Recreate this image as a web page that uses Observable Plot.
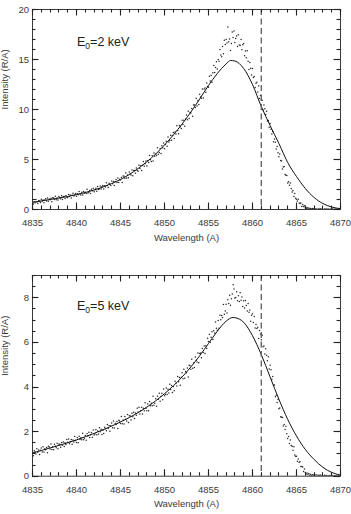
<!DOCTYPE html>
<html>
<head>
<meta charset="utf-8">
<script src="https://cdn.jsdelivr.net/npm/d3@7"></script>
<script src="https://cdn.jsdelivr.net/npm/@observablehq/plot@0.6"></script>
<style>
  body { margin: 0; background: #fff; }
  #chart svg { display: block; }
</style>
</head>
<body>
<div id="chart"></div>
<script>
// Observed H-beta profile, sampled every 0.1 A from 4835 A
const obsStart = 4835;
const obsStep = 0.1;

// Observed intensities (R/A), E0 = 2 keV
const obsIntensity2keV = [
  0.83,0.54,0.78,0.67,0.99,0.75,0.59,0.91,0.82,0.71,
  1.03,0.82,0.96,0.67,0.94,1.08,0.84,1.16,0.82,1.04,
  0.98,1.12,0.78,1.17,1.14,1.00,1.32,0.98,1.15,0.96,
  1.30,1.17,1.08,1.37,1.01,1.30,1.29,1.11,1.40,1.24,
  1.18,1.50,1.29,1.44,1.16,1.43,1.62,1.34,1.46,1.61,
  1.33,1.57,1.47,1.79,1.56,1.45,1.72,1.44,1.81,1.63,
  1.73,1.61,2.03,1.64,1.72,1.91,1.60,2.02,1.87,2.12,
  1.77,1.98,2.13,1.83,2.31,2.01,2.07,2.34,2.04,2.28,
  2.41,2.06,2.38,2.26,2.68,2.39,2.20,2.62,2.53,2.41,
  2.85,2.57,2.79,2.41,2.80,3.01,2.70,3.16,2.71,3.03,
  2.96,3.21,2.70,3.35,3.32,3.13,3.66,3.15,3.44,3.17,
  3.75,3.56,3.44,3.96,3.38,3.90,3.91,3.63,4.15,3.91,
  3.83,4.43,4.09,4.38,3.91,4.42,4.80,4.33,4.57,4.86,
  4.35,4.88,4.71,5.39,4.97,4.80,5.38,4.86,5.64,5.32,
  5.55,5.39,6.18,5.52,5.71,6.10,5.59,6.38,6.17,6.66,
  6.07,6.50,6.82,6.32,7.24,6.74,6.89,7.43,6.93,7.41,
  7.70,7.09,7.74,7.55,8.38,7.89,7.58,8.41,8.28,8.09,
  8.92,8.50,8.92,8.32,9.04,9.46,8.98,9.82,9.10,9.70,
  9.64,10.10,9.33,10.45,10.46,10.21,11.13,10.36,10.89,10.51,
  11.52,11.25,11.12,12.04,11.14,12.06,12.14,11.73,12.65,12.31,
  12.23,13.33,12.85,13.43,12.73,13.68,14.40,13.70,14.20,14.78,
  14.04,14.99,14.82,16.01,15.44,15.27,16.30,15.57,16.92,16.51,
  16.99,16.66,18.25,16.78,17.05,15.90,16.60,17.75,17.20,17.84,
  16.69,17.10,17.34,16.31,17.48,16.45,16.43,17.01,15.98,16.47,
  16.60,15.38,15.84,15.18,15.88,14.82,14.00,14.70,14.12,13.46,
  14.09,13.20,13.29,12.19,12.63,12.72,11.76,12.34,11.10,11.40,
  10.95,10.93,9.96,10.44,10.07,9.50,9.83,8.86,8.89,8.22,
  8.60,8.02,7.54,7.81,6.78,7.05,6.72,6.04,6.31,5.68,
  5.28,5.56,4.89,4.86,4.06,4.25,4.30,3.50,3.42,3.39,
  2.66,2.78,2.42,2.65,2.10,1.74,1.90,1.29,1.59,1.12,
  1.02,0.84,1.03,0.65,0.60,0.64,0.31,0.51,0.30,0.38,
  0.18,0.12,0.20,0.08,0.14,0.05,0.11,0.03,0.09,0.06,
  0.04,0.08,0.02,0.06,0.00,0.05,0.03,0.07,0.01,0.04,
  0.03,0.00,0.05,0.02,0.06,0.01,0.04,0.00,0.03,0.02,
  0.01,0.04,0.00,0.03,0.02,0.05,0.00,0.02,0.03,0.01,
  0.02
];

// Observed intensities (R/A), E0 = 5 keV
const obsIntensity5keV = [
  1.03,0.92,1.14,1.08,1.00,1.23,1.07,1.17,0.97,1.16,
  1.26,1.09,1.32,1.08,1.23,1.19,1.29,1.05,1.34,1.31,
  1.22,1.44,1.20,1.32,1.19,1.43,1.34,1.28,1.48,1.23,
  1.43,1.43,1.30,1.51,1.39,1.53,1.33,1.50,1.42,1.65,
  1.52,1.67,1.45,1.54,1.65,1.43,1.62,1.53,1.78,1.60,
  1.51,1.72,1.50,1.79,1.65,1.72,1.63,1.93,1.64,1.70,
  1.83,1.61,1.90,1.80,1.97,1.73,1.86,1.96,1.75,2.07,
  1.85,1.89,2.08,1.86,2.03,1.89,2.17,1.99,2.11,1.87,
  2.06,1.92,2.20,2.13,2.04,2.32,2.14,2.27,2.02,2.26,
  2.39,2.17,2.48,2.16,2.37,2.32,2.45,2.14,2.51,2.48,
  2.36,2.68,2.35,2.52,2.34,2.68,2.55,2.47,2.77,2.41,
  2.71,2.70,2.52,2.82,2.67,2.87,2.59,2.83,2.73,3.05,
  2.88,3.09,2.79,2.93,3.09,2.79,3.05,2.94,3.29,3.05,
  2.93,3.24,2.93,3.35,3.16,3.27,3.16,3.58,3.18,3.27,
  3.47,3.14,3.59,3.45,3.72,3.36,3.57,3.72,3.43,3.91,
  3.61,3.68,3.95,3.66,3.90,3.73,4.12,3.89,4.07,3.75,
  4.02,3.83,4.26,4.17,4.05,4.47,4.23,4.43,4.08,4.44,
  4.64,4.37,4.80,4.39,4.69,4.64,4.85,4.45,4.97,4.95,
  4.80,5.25,4.84,5.08,4.87,5.35,5.20,5.12,5.53,5.09,
  5.50,5.52,5.31,5.73,5.55,5.84,5.50,5.85,5.74,6.19,
  6.04,6.36,6.01,6.23,6.48,6.13,6.52,6.42,6.92,6.64,
  6.54,6.98,6.64,7.22,7.02,7.21,7.12,7.70,7.26,7.41,
  7.71,7.32,7.91,7.74,8.11,7.67,7.96,8.17,8.58,8.40,
  7.99,8.01,8.27,7.87,8.09,7.83,8.23,7.89,8.04,7.61,
  7.87,7.54,7.88,7.66,7.41,7.75,7.35,7.45,6.95,7.22,
  7.28,6.89,7.16,6.65,6.80,6.62,6.68,6.17,6.53,6.38,
  6.12,6.32,5.80,5.84,5.48,5.72,5.42,5.18,5.36,4.81,
  4.98,4.77,4.35,4.47,4.08,4.09,3.56,3.63,3.30,3.44,
  3.02,3.06,2.67,2.64,2.63,2.25,2.32,2.09,2.24,1.90,
  1.69,1.78,1.47,1.62,1.38,1.34,1.16,1.32,0.95,0.89,
  0.89,0.67,0.77,0.63,0.65,0.43,0.43,0.41,0.21,0.32,
  0.17,0.10,0.14,0.06,0.12,0.04,0.09,0.03,0.07,0.05,
  0.03,0.06,0.01,0.05,0.00,0.04,0.02,0.05,0.01,0.03,
  0.02,0.00,0.04,0.01,0.03,0.00,0.02,0.01,0.03,0.00,
  0.01,0.03,0.00,0.02,0.01,0.03,0.00,0.01,0.02,0.00,
  0.01
];

// Model profiles (solid curves)
const modelWave2keV = [4835,4836,4837,4838,4839,4840,4841,4842,4843,4844,4845,4846,4847,4848,4849,4850,4851,4852,4853,4854,4855,4856,4857,4857.5,4858,4859,4860,4861,4862,4863,4864,4865,4866,4867,4868,4869,4870];
const modelInt2keV  = [0.72,0.86,1.0,1.15,1.3,1.5,1.7,1.95,2.25,2.6,3.0,3.5,4.1,4.78,5.55,6.45,7.45,8.55,9.75,11.05,12.4,13.6,14.55,14.9,14.85,14.1,12.5,10.3,8.4,6.6,4.7,3.3,2.1,1.2,0.6,0.25,0.08];

const modelWave5keV = [4835,4836,4837,4838,4839,4840,4841,4842,4843,4844,4845,4846,4847,4848,4849,4850,4851,4852,4853,4854,4855,4856,4857,4857.8,4858,4859,4860,4861,4862,4863,4864,4865,4866,4867,4868,4869,4870];
const modelInt5keV  = [1.05,1.15,1.27,1.38,1.5,1.63,1.77,1.92,2.08,2.25,2.43,2.63,2.85,3.1,3.38,3.7,4.05,4.45,4.9,5.4,5.95,6.5,6.95,7.12,7.11,6.9,6.3,5.45,4.45,3.45,2.55,1.8,1.2,0.75,0.4,0.17,0.05];

// Rest wavelength of H-beta (dashed marker)
const restWavelength = [4861];

// Axis ticks
const xDomain = [4835, 4870];
const xTicks = [4835, 4840, 4845, 4850, 4855, 4860, 4865, 4870];
const yTicks2keV = [0, 5, 10, 15, 20];
const yTicks5keV = [0, 2, 4, 6, 8];

const FONT = "'Liberation Sans', Arial, Helvetica, sans-serif";
const AXIS_COLOR = "#3a3a3a";
const TICK_COLOR = "#222";
const WIDTH = 351, MARGIN_LEFT = 32, MARGIN_RIGHT = 11;

// Inward tick marks on all four sides, positioned with the plot's own scales
function addInwardTicks(svg, {xMajor, xMinor, yMajor, yMinor}) {
  const sx = svg.scale("x");
  const sy = svg.scale("y");
  const [x0, x1] = sx.range;
  const [yb, yt] = sy.range;
  const g = d3.select(svg).append("g")
    .attr("aria-label", "inward ticks")
    .attr("stroke", TICK_COLOR)
    .attr("stroke-width", 1.1)
    .attr("fill", "none");
  const seg = (xa, ya, xb, yb2) => g.append("line")
    .attr("x1", xa).attr("y1", ya).attr("x2", xb).attr("y2", yb2);
  const xSide = (values, len) => values.forEach(v => {
    const x = Math.round(sx.apply(v)) + 0.5;
    seg(x, yb, x, yb - len);
    seg(x, yt, x, yt + len);
  });
  const ySide = (values, len) => values.forEach(v => {
    const y = Math.round(sy.apply(v)) + 0.5;
    seg(x0, y, x0 + len, y);
    seg(x1, y, x1 - len, y);
  });
  xSide(xMinor, 3.5);
  xSide(xMajor, 6.5);
  ySide(yMinor, 3.5);
  ySide(yMajor, 6.5);
}

function panel({obs, modelWave, modelInt, yMax, yMajor, yMinorStep, energy, height, marginTop, marginBottom, titleDy}) {
  const obsData = obs.map((v, i) => ({w: obsStart + i * obsStep, v}));
  const model = modelWave.map((w, i) => ({w, v: modelInt[i]}));
  const xMinor = d3.range(xDomain[0], xDomain[1] + 0.5, 1);
  const yMinor = d3.range(0, yMax + 1e-9, yMinorStep);
  const title = `E0=${energy} keV`;

  const svg = Plot.plot({
    width: WIDTH,
    height,
    marginTop,
    marginBottom,
    marginLeft: MARGIN_LEFT,
    marginRight: MARGIN_RIGHT,
    x: {domain: xDomain},
    y: {domain: [0, yMax]},
    style: {fontFamily: FONT, fontSize: "9.5px", color: AXIS_COLOR, background: "#fff"},
    marks: [
      Plot.dot(obsData, {x: "w", y: "v", r: 0.75, fill: "#262626", stroke: null, clip: true}),
      Plot.line(model, {x: "w", y: "v", curve: "monotone-x", stroke: "#111", strokeWidth: 1, clip: true}),
      Plot.ruleX(restWavelength, {stroke: "#666", strokeWidth: 1.4, strokeDasharray: "6,3.5"}),

      // tick labels
      Plot.axisX(xTicks, {anchor: "bottom", tickSize: 0, tickPadding: 10, tickFormat: d => String(d), label: null, fill: AXIS_COLOR}),
      Plot.axisY(yMajor, {anchor: "left", tickSize: 0, tickPadding: 3.5, tickFormat: d => String(d), label: null, fill: AXIS_COLOR}),

      Plot.frame({stroke: AXIS_COLOR, strokeWidth: 1}),

      // axis titles
      Plot.text(["Wavelength (A)"], {frameAnchor: "bottom", dy: 28, lineAnchor: "middle", fill: AXIS_COLOR, fontSize: 9.5}),
      Plot.text(["Intensity (R/A)"], {frameAnchor: "left", dx: -27.5, rotate: -90, lineAnchor: "middle", fill: AXIS_COLOR, fontSize: 9.5}),

      // beam energy label
      Plot.text([title], {frameAnchor: "top-left", dx: 44.5, dy: titleDy, textAnchor: "start", lineAnchor: "middle", fill: "#222", fontSize: 12.5})
    ]
  });

  addInwardTicks(svg, {xMajor: xTicks, xMinor, yMajor, yMinor});

  // subscript for E0
  d3.select(svg).selectAll("text")
    .filter(function () { return this.textContent === title; })
    .each(function () {
      const t = d3.select(this);
      t.text(null);
      t.append("tspan").text("E");
      t.append("tspan").attr("font-size", "8.5px").attr("dy", "3.2").text("0");
      t.append("tspan").attr("dy", "-3.2").text(`=${energy} keV`);
    });
  return svg;
}

const chart = document.getElementById("chart");
chart.append(panel({
  obs: obsIntensity2keV, modelWave: modelWave2keV, modelInt: modelInt2keV,
  yMax: 20, yMajor: yTicks2keV, yMinorStep: 1, energy: 2,
  height: 250, marginTop: 9, marginBottom: 41, titleDy: 32.5
}));
chart.append(panel({
  obs: obsIntensity5keV, modelWave: modelWave5keV, modelInt: modelInt5keV,
  yMax: 9, yMajor: yTicks5keV, yMinorStep: 0.5, energy: 5,
  height: 264, marginTop: 25, marginBottom: 38.3, titleDy: 30
}));
</script>
</body>
</html>
